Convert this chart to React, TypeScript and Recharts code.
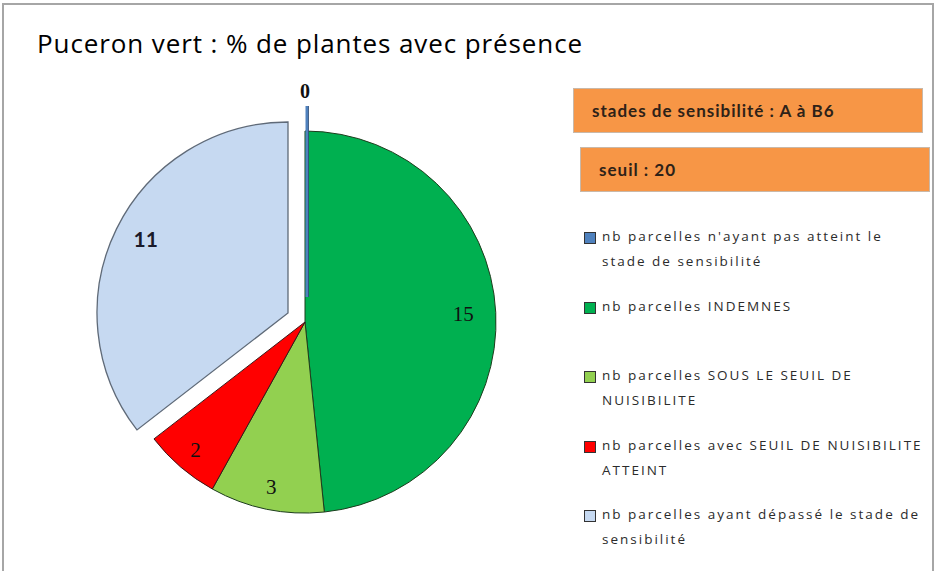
import { PieChart, Pie, Cell, Legend } from 'recharts'

// pucerons : nb de parcelles par classe
const classes = [
  "nb parcelles n'ayant pas atteint le stade de sensibilité",
  'nb parcelles INDEMNES',
  'nb parcelles SOUS LE SEUIL DE NUISIBILITE',
  'nb parcelles avec SEUIL DE NUISIBILITE ATTEINT',
  'nb parcelles ayant dépassé le stade de sensibilité',
]
const parcelles = [0, 15, 3, 2, 11]
const notes = ['stades de sensibilité : A à B6', 'seuil : 20']
const title = 'Puceron vert : % de plantes avec présence'

const COLORS = ['#4F81BD', '#00B050', '#92D050', '#FF0000', '#C6D9F1']
const STROKES = ['#2c4a74', '#1d3d1d', '#1d3d1d', '#3a1a1a', '#5f6a78']
const RAD = Math.PI / 180

const data = classes.map((name, i) => ({ name, value: parcelles[i] }))

const W = 937
const H = 571
const CX = 305
const CY = 322
const R = 191
const NO_MARGIN = { top: 0, right: 0, bottom: 0, left: 0 }

const pt = (p: any, r: number) => ({
  x: p.cx + r * Math.cos(-p.midAngle * RAD),
  y: p.cy + r * Math.sin(-p.midAngle * RAD),
})

const serifLabel = (show: number[]) => (p: any) => {
  if (!show.includes(p.index)) return null
  const { x, y } = pt(p, p.outerRadius * (p.index === 1 ? 0.83 : 0.88))
  return (
    <text key={p.index} x={x} y={y} textAnchor="middle" dominantBaseline="central"
      fontFamily="'Liberation Serif', serif" fontSize={21} fill="#111">{p.value}</text>
  )
}

const elevenLabel = (p: any) => {
  if (p.index !== 4) return null
  const { x, y } = pt(p, p.outerRadius * 0.83)
  return (
    <text key={p.index} x={x} y={y - 5} textAnchor="middle" dominantBaseline="central"
      fontFamily="Lato, sans-serif" fontWeight={700} fontSize={21} fill="#1a1a2a">{p.value}</text>
  )
}

// the empty class is drawn as a thin line, like Excel does
const zeroLabel = (p: any) => {
  if (p.index !== 0) return null
  const a = pt(p, 0)
  const b = pt(p, p.outerRadius)
  const t = pt(p, p.outerRadius + 15)
  return (
    <g key={p.index}>
      <line x1={a.x + 2} y1={a.y} x2={b.x + 2} y2={b.y} stroke={COLORS[0]} strokeWidth={3} />
      <line x1={a.x + 3.5} y1={a.y} x2={b.x + 3.5} y2={b.y} stroke={STROKES[0]} strokeWidth={0.8} />
      <text x={t.x} y={t.y} textAnchor="middle" dominantBaseline="central"
        fontFamily="'Liberation Serif', serif" fontWeight={700} fontSize={20} fill="#111">{p.value}</text>
    </g>
  )
}

const LegendBox = () => (
  <div style={{ width: 348, fontFamily: "'Open Sans', sans-serif", fontSize: 13.5, letterSpacing: 2, color: '#2b2b2b' }}>
    {classes.map((c, i) => (
      <div key={i} style={{ height: 69.5, display: 'flex', alignItems: 'flex-start' }}>
        <span style={{ width: 10, height: 10, marginTop: 7, marginRight: 6, flex: 'none', background: COLORS[i], border: '1px solid #333' }} />
        <span style={{ lineHeight: '25px', width: 325, marginTop: -1 }}>{c}</span>
      </div>
    ))}
  </div>
)

export default function App() {
  return (
    <div style={{ position: 'absolute', left: 0, top: 0, width: W, height: H, overflow: 'hidden', background: '#fff' }}>
      <div style={{ position: 'absolute', left: 2, top: 3, width: 932, height: 620, border: '2px solid #a6a6a6', boxSizing: 'border-box' }} />
      <div style={{ position: 'absolute', left: 37, top: 26, fontFamily: "'Open Sans', sans-serif", fontSize: 26, letterSpacing: 0.9, lineHeight: '34px', color: '#000', whiteSpace: 'nowrap' }}>{title}</div>

      <div style={{ position: 'absolute', left: 0, top: 0 }}>
        <PieChart width={W} height={H} margin={NO_MARGIN}>
          <Pie data={data} dataKey="value" nameKey="name" cx={CX} cy={CY} outerRadius={R}
            startAngle={90} endAngle={-270} isAnimationActive={false} labelLine={false}
            label={serifLabel([1, 2, 3])} legendType="none">
            {data.map((_, i) => (
              <Cell key={i} fill={i === 0 || i === 4 ? 'none' : COLORS[i]} stroke={i === 0 || i === 4 ? 'none' : STROKES[i]} strokeWidth={1} />
            ))}
          </Pie>
          <Pie data={data} dataKey="value" nameKey="name" cx={CX - 17} cy={CY - 9} outerRadius={R}
            startAngle={90} endAngle={-270} isAnimationActive={false} labelLine={false}
            label={elevenLabel} legendType="none">
            {data.map((_, i) => (
              <Cell key={i} fill={i === 4 ? COLORS[4] : 'none'} stroke={i === 4 ? STROKES[4] : 'none'} strokeWidth={1.3} />
            ))}
          </Pie>
          <Pie data={data} dataKey="value" nameKey="name" cx={CX} cy={CY - 25} outerRadius={R}
            startAngle={90} endAngle={-270} isAnimationActive={false} labelLine={false}
            label={zeroLabel} legendType="none">
            {data.map((_, i) => (
              <Cell key={i} fill="none" stroke="none" />
            ))}
          </Pie>
          <Legend content={() => <LegendBox />} wrapperStyle={{ left: 584, top: 225, width: 348 }} />
        </PieChart>
      </div>

      {notes.map((n, i) => (
        <div key={i} style={{
          position: 'absolute', left: i === 0 ? 573 : 580, top: i === 0 ? 88 : 147, width: 350, height: 45,
          background: '#F79646', border: '1px solid #c9b8a8', boxSizing: 'border-box',
          fontFamily: 'Lato, sans-serif', fontWeight: 700, fontSize: 17, letterSpacing: 1, color: '#2e2218',
          display: 'flex', alignItems: 'center', paddingLeft: 18,
        }}>{n}</div>
      ))}
    </div>
  )
}
